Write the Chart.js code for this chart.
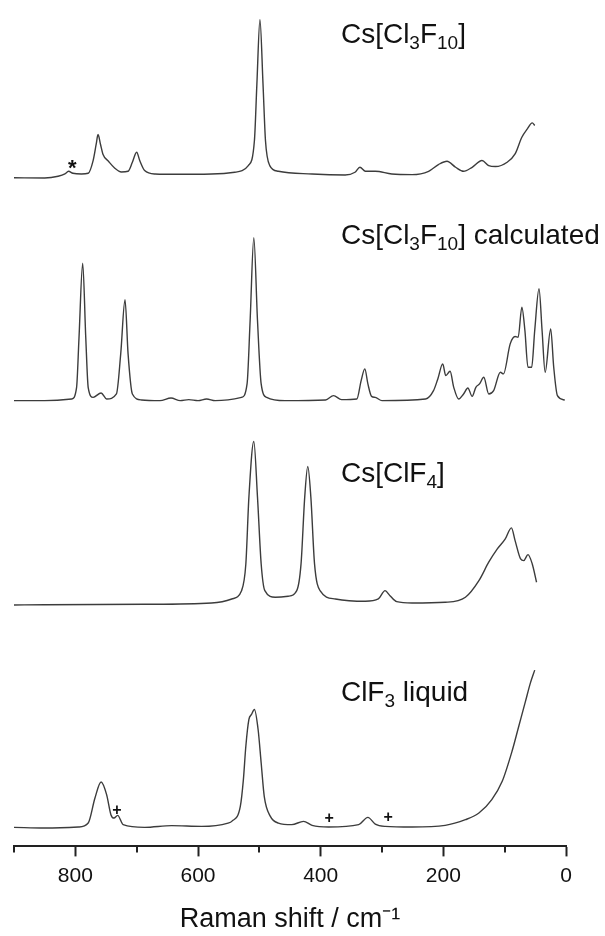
<!DOCTYPE html>
<html lang="en">
<head>
    <meta charset="UTF-8">
    <title>Raman spectra</title>
    <script src="https://cdn.jsdelivr.net/npm/chart.js"></script>
    <style>
        html, body { margin: 0; padding: 0; background: #fff; }
        .wrap { width: 605px; height: 936px; position: relative; }
    </style>
</head>
<body>
    <div class="wrap"><canvas id="raman"></canvas></div>

    <script>
        // Raman shift (cm-1) and intensity (arb. units, baseline = 0) for each trace
        const shiftMeasured = [900, 850, 828, 817, 811, 804, 790, 779, 771, 766, 763, 759, 755, 746, 736, 725, 714, 707, 700, 695, 687, 670, 632, 578, 540, 518, 508, 504, 499, 494, 490, 483, 469, 414, 360, 344, 336, 327, 311, 284, 251, 224, 208, 194, 180, 167, 153, 137, 126, 115, 96, 83, 72, 63, 55, 51];
        const intMeasured = [-0.5, -0.7, 1, 3.3, 6, 4, 3.3, 4, 16.7, 33, 42.7, 33, 23, 16, 9.3, 5.3, 6, 15, 25, 16.7, 6.7, 3.3, 3, 3.3, 5, 11.7, 36.7, 93, 157.3, 93, 36.7, 11.7, 6, 3.3, 2.3, 5, 10, 6, 6, 3.3, 2.7, 6, 12.7, 16, 10, 6, 10, 16.7, 11.7, 10.7, 15, 23.3, 40, 48.3, 54.3, 51.7];

        const shiftCalc = [900, 850, 806, 798, 794, 788, 783, 779, 771, 758, 749, 733, 726, 719, 714, 707, 692, 662, 644, 629, 615, 600, 586, 572, 529, 520, 515, 509, 503, 497, 488, 458, 392, 379, 366, 341, 334, 328, 323, 317, 311, 300, 229, 216, 209, 201, 196, 189, 183, 175, 167, 160, 153, 147, 141, 134, 126, 118, 107, 102, 91, 83, 78, 72, 67, 62, 56, 51, 44, 39, 34, 25, 20, 14, 2];
        const intCalc = [0, 0, 1.7, 13, 63, 137.3, 63, 13, 3.3, 7.7, 1.7, 6.7, 46.7, 100.7, 46.7, 6.7, 0.7, 0, 2.7, 0, 1, 0, 1.7, 0, 3.3, 16.7, 80, 162.7, 80, 16.7, 3.3, 0, 0.7, 5, 1, 1.7, 20, 31.7, 16.7, 4.3, 3.3, 0, 1.7, 10, 21.7, 36.7, 25, 29.3, 13.3, 1.7, 6.7, 12.7, 4.3, 13.3, 16.7, 23.3, 6.7, 10, 28.3, 26.7, 56.7, 64, 63.3, 93.3, 70, 33.3, 33.3, 70, 111.7, 70, 28.3, 71.7, 33.3, 5, 0.7];

        const shiftClF4 = [900, 850, 687, 578, 545, 529, 522, 517, 509, 503, 497, 491, 474, 453, 439, 432, 426, 421, 416, 410, 401, 376, 327, 306, 295, 287, 276, 251, 197, 164, 142, 126, 112, 99, 89, 83, 74, 69, 62, 55, 48];
        const intClF4 = [-1, -0.7, -0.3, 1, 5, 13.3, 40, 106.7, 162.3, 106.7, 40, 13.3, 6.7, 7.7, 13.3, 40, 106.7, 137.3, 106.7, 40, 13.3, 5, 2.7, 5, 13.3, 8.3, 2.3, 1, 1.7, 6.7, 23.3, 41.7, 55, 65, 76, 63.3, 45, 43.3, 49.3, 40, 21.7];

        const shiftClF3 = [900, 850, 795, 779, 768, 758, 749, 742, 737, 731, 722, 687, 643, 594, 551, 545, 531, 526, 522, 517, 513, 508, 502, 497, 492, 482, 469, 447, 428, 414, 387, 338, 323, 311, 295, 251, 197, 164, 142, 121, 104, 88, 77, 66, 58, 51];
        const intClF3 = [0, -0.7, 0.3, 4.3, 29.3, 45.3, 32.7, 12.7, 9.3, 12, 2.7, 0, 1.7, 1, 4.3, 6, 21, 47.7, 81, 107.7, 112.5, 117.7, 97.7, 64.3, 31, 11, 4.3, 2.7, 6, 2, 0.3, 2.7, 10, 3.3, 1, 0.3, 2, 7.7, 14.3, 27.7, 46, 76, 101, 126, 144.3, 157];

        // vertical stacking offset of each trace
        const traceOffsets = [668, 445, 242, 19];

        // trace labels: text runs (normal / subscript), anchored at a shift and a height above the trace baseline
        const traceLabels = [
            [['Cs[Cl', ''], ['3', 'sub'], ['F', ''], ['10', 'sub'], [']', '']],
            [['Cs[Cl', ''], ['3', 'sub'], ['F', ''], ['10', 'sub'], ['] calculated', '']],
            [['Cs[ClF', ''], ['4', 'sub'], [']', '']],
            [['ClF', ''], ['3', 'sub'], [' liquid', '']]
        ];
        const labelShift = 367;
        const labelHeights = [134.5, 156, 121.3, 126];

        // impurity marks: symbol, trace index, shift, height above baseline
        const markSymbols = ['*', '+', '+', '+'];
        const markTraces = [0, 3, 3, 3];
        const markShifts = [805, 732, 386, 290];
        const markHeights = [14.7, 16.7, 8.3, 10];

        const xTicks = [0, 200, 400, 600, 800];
        const minorTicks = [100, 300, 500, 700, 900];

        const FONT = "'Liberation Sans', Arial, sans-serif";
        Chart.defaults.font.family = FONT;

        const traces = [
            [shiftMeasured, intMeasured],
            [shiftCalc, intCalc],
            [shiftClF4, intClF4],
            [shiftClF3, intClF3]
        ];

        const datasets = traces.map(([xs, ys], i) => ({
            data: xs.map((x, k) => ({ x: x, y: ys[k] + traceOffsets[i] })),
            borderColor: '#3c3c3c',
            borderWidth: 1.4,
            pointRadius: 0,
            fill: false,
            showLine: true,
            cubicInterpolationMode: 'monotone'
        }));

        const decorPlugin = {
            id: 'decor',
            afterDraw(chart) {
                const ctx = chart.ctx;
                const xs = chart.scales.x;
                const ys = chart.scales.y;
                ctx.save();

                // short minor ticks
                ctx.strokeStyle = '#222';
                ctx.lineWidth = 2;
                minorTicks.forEach(v => {
                    const px = Math.round(xs.getPixelForValue(v));
                    ctx.beginPath();
                    ctx.moveTo(px, xs.top);
                    ctx.lineTo(px, xs.top + 6);
                    ctx.stroke();
                });

                // trace labels with subscripts
                ctx.fillStyle = '#111';
                ctx.textBaseline = 'alphabetic';
                ctx.textAlign = 'left';
                traceLabels.forEach((runs, i) => {
                    let px = xs.getPixelForValue(labelShift);
                    const py = ys.getPixelForValue(traceOffsets[i] + labelHeights[i]);
                    runs.forEach(([txt, kind]) => {
                        ctx.font = kind === 'sub' ? '19px ' + FONT : '28px ' + FONT;
                        ctx.fillText(txt, px, kind === 'sub' ? py + 6 : py);
                        px += ctx.measureText(txt).width;
                    });
                });

                // impurity marks
                ctx.textAlign = 'center';
                markSymbols.forEach((s, i) => {
                    const px = xs.getPixelForValue(markShifts[i]);
                    const py = ys.getPixelForValue(traceOffsets[markTraces[i]] + markHeights[i]);
                    if (s === '*') {
                        ctx.font = 'bold 22px ' + FONT;
                        ctx.textBaseline = 'alphabetic';
                        ctx.fillText(s, px, py + 12.5);
                    } else {
                        ctx.font = 'bold 16px ' + FONT;
                        ctx.textBaseline = 'middle';
                        ctx.fillText(s, px, py);
                    }
                });
                ctx.restore();
            }
        };

        new Chart(document.getElementById('raman'), {
            type: 'scatter',
            data: { datasets: datasets },
            options: {
                responsive: true,
                maintainAspectRatio: false,
                animation: false,
                layout: { padding: { top: 5, left: 14, right: 39, bottom: 0 } },
                plugins: { legend: { display: false }, tooltip: { enabled: false } },
                scales: {
                    x: {
                        type: 'linear',
                        reverse: true,
                        min: 0,
                        max: 900,
                        border: { display: true, color: '#222', width: 2 },
                        grid: {
                            drawOnChartArea: false,
                            drawTicks: true,
                            tickLength: 10,
                            tickWidth: 2,
                            tickColor: c => xTicks.includes(c.tick.value) ? '#222' : 'rgba(0,0,0,0)'
                        },
                        ticks: {
                            stepSize: 100,
                            autoSkip: false,
                            maxRotation: 0,
                            padding: 7,
                            color: '#111',
                            font: { size: 21 },
                            callback: v => xTicks.includes(v) ? String(v) : ''
                        },
                        title: {
                            display: true,
                            text: 'Raman shift / cm\u207B\u00B9',
                            color: '#111',
                            font: { size: 27 },
                            padding: { top: 8, bottom: 0 }
                        }
                    },
                    y: { display: false, min: 0, max: 840 }
                }
            },
            plugins: [decorPlugin]
        });
    </script>
</body>
</html>
